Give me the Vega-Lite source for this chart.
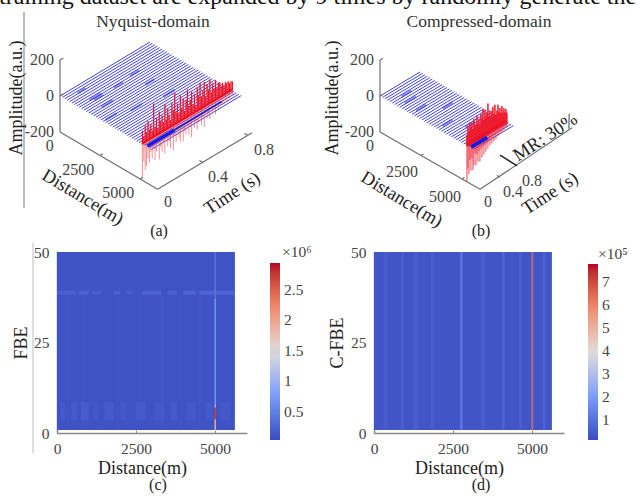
{"$schema":"https://vega.github.io/schema/vega-lite/v6.json","background":"white","autosize":{"type":"pad"},"padding":{"left":-1,"top":-15,"right":0,"bottom":0},"config":{"font":"Liberation Serif","view":{"stroke":null},"axis":{"grid":false,"domainColor":"#888888","domainWidth":1.5,"tickColor":"#888888","tickSize":-3,"labelFont":"Liberation Serif","labelFontSize":15.5,"labelColor":"#444444","titleFont":"Liberation Serif","titleFontSize":18,"titleColor":"#222222","titleFontWeight":"normal","labelPadding":11},"text":{"font":"Liberation Serif"}},"bounds":"flush","columns":2,"spacing":{"column":127,"row":31},"resolve":{"scale":{"color":"independent"}},"datasets":{"traces":[{"k":"tr","d":0,"t":0,"z":0,"t2":0.8},{"k":"tr","d":150,"t":0,"z":0,"t2":0.8},{"k":"tr","d":300,"t":0,"z":0,"t2":0.8},{"k":"tr","d":450,"t":0,"z":0,"t2":0.8},{"k":"tr","d":600,"t":0,"z":0,"t2":0.8},{"k":"tr","d":750,"t":0,"z":0,"t2":0.8},{"k":"tr","d":900,"t":0,"z":0,"t2":0.8},{"k":"tr","d":1050,"t":0,"z":0,"t2":0.8},{"k":"tr","d":1200,"t":0,"z":0,"t2":0.8},{"k":"tr","d":1350,"t":0,"z":0,"t2":0.8},{"k":"tr","d":1500,"t":0,"z":0,"t2":0.8},{"k":"tr","d":1650,"t":0,"z":0,"t2":0.8},{"k":"tr","d":1800,"t":0,"z":0,"t2":0.8},{"k":"tr","d":1950,"t":0,"z":0,"t2":0.8},{"k":"tr","d":2100,"t":0,"z":0,"t2":0.8},{"k":"tr","d":2250,"t":0,"z":0,"t2":0.8},{"k":"tr","d":2400,"t":0,"z":0,"t2":0.8},{"k":"tr","d":2550,"t":0,"z":0,"t2":0.8},{"k":"tr","d":2700,"t":0,"z":0,"t2":0.8},{"k":"tr","d":2850,"t":0,"z":0,"t2":0.8},{"k":"tr","d":3000,"t":0,"z":0,"t2":0.8},{"k":"tr","d":3150,"t":0,"z":0,"t2":0.8},{"k":"tr","d":3300,"t":0,"z":0,"t2":0.8},{"k":"tr","d":3450,"t":0,"z":0,"t2":0.8},{"k":"tr","d":3600,"t":0,"z":0,"t2":0.8},{"k":"tr","d":3750,"t":0,"z":0,"t2":0.8},{"k":"tr","d":3900,"t":0,"z":0,"t2":0.8},{"k":"tr","d":4050,"t":0,"z":0,"t2":0.8},{"k":"tr","d":4200,"t":0,"z":0,"t2":0.8},{"k":"tr","d":4350,"t":0,"z":0,"t2":0.8},{"k":"tr","d":4500,"t":0,"z":0,"t2":0.8},{"k":"tr","d":4650,"t":0,"z":0,"t2":0.8},{"k":"tr","d":4800,"t":0,"z":0,"t2":0.8},{"k":"tr","d":4950,"t":0,"z":0,"t2":0.8},{"k":"tr","d":5100,"t":0,"z":0,"t2":0.8},{"k":"tr","d":5250,"t":0,"z":0,"t2":0.8},{"k":"tr","d":5400,"t":0,"z":0,"t2":0.8},{"k":"tr","d":5550,"t":0,"z":0,"t2":0.8},{"k":"tr","d":5700,"t":0,"z":0,"t2":0.8}]},"concat":[{"width":190,"height":181,"data":{"values":[{"k":"one","d":0,"t":0,"z":0},{"k":"pt","d":1150,"t":0.1,"z":0,"t2":0.2},{"k":"pt","d":1300,"t":0.12,"z":0,"t2":0.2},{"k":"pt","d":1900,"t":0.1,"z":0,"t2":0.2},{"k":"pt","d":400,"t":0.1,"z":0,"t2":0.17},{"k":"pt","d":1150,"t":0.46,"z":0,"t2":0.54},{"k":"pt","d":1250,"t":0.3,"z":0,"t2":0.38},{"k":"pt","d":2100,"t":0.46,"z":0,"t2":0.54},{"k":"pt","d":3000,"t":0.2,"z":0,"t2":0.3},{"k":"pt","d":3300,"t":0.45,"z":0,"t2":0.55},{"k":"pt","d":2700,"t":0.02,"z":0,"t2":0.12},{"k":"sp","d":5150,"t":0,"z":-190,"z2":75},{"k":"sp","d":5150,"t":0.0125,"z":-100,"z2":40},{"k":"sp","d":5150,"t":0.025,"z":-150,"z2":95},{"k":"sp","d":5150,"t":0.0375,"z":-135,"z2":50},{"k":"sp","d":5150,"t":0.05,"z":-95,"z2":110},{"k":"sp","d":5150,"t":0.0625,"z":-125,"z2":60},{"k":"sp","d":5150,"t":0.075,"z":-70,"z2":85},{"k":"sp","d":5150,"t":0.0875,"z":-110,"z2":45},{"k":"sp","d":5150,"t":0.1,"z":-60,"z2":190},{"k":"sp","d":5150,"t":0.1125,"z":-130,"z2":55},{"k":"sp","d":5150,"t":0.125,"z":-85,"z2":100},{"k":"sp","d":5150,"t":0.1375,"z":-50,"z2":40},{"k":"sp","d":5150,"t":0.15,"z":-140,"z2":125},{"k":"sp","d":5150,"t":0.1625,"z":-75,"z2":70},{"k":"sp","d":5150,"t":0.175,"z":-105,"z2":95},{"k":"sp","d":5150,"t":0.1875,"z":-60,"z2":50},{"k":"sp","d":5150,"t":0.2,"z":-125,"z2":150},{"k":"sp","d":5150,"t":0.2125,"z":-45,"z2":60},{"k":"sp","d":5150,"t":0.225,"z":-95,"z2":115},{"k":"sp","d":5150,"t":0.2375,"z":-70,"z2":75},{"k":"sp","d":5150,"t":0.25,"z":-115,"z2":40},{"k":"sp","d":5150,"t":0.2625,"z":-55,"z2":130},{"k":"sp","d":5150,"t":0.275,"z":-135,"z2":85},{"k":"sp","d":5150,"t":0.2875,"z":-60,"z2":178},{"k":"sp","d":5150,"t":0.3,"z":-100,"z2":65},{"k":"sp","d":5150,"t":0.3125,"z":-40,"z2":110},{"k":"sp","d":5150,"t":0.325,"z":-85,"z2":50},{"k":"sp","d":5150,"t":0.3375,"z":-110,"z2":145},{"k":"sp","d":5150,"t":0.35,"z":-50,"z2":70},{"k":"sp","d":5150,"t":0.3625,"z":-120,"z2":120},{"k":"sp","d":5150,"t":0.375,"z":-65,"z2":45},{"k":"sp","d":5150,"t":0.3875,"z":-90,"z2":100},{"k":"sp","d":5150,"t":0.4,"z":-45,"z2":155},{"k":"sp","d":5150,"t":0.4125,"z":-100,"z2":60},{"k":"sp","d":5150,"t":0.425,"z":-60,"z2":90},{"k":"sp","d":5150,"t":0.4375,"z":-125,"z2":130},{"k":"sp","d":5150,"t":0.45,"z":-40,"z2":55},{"k":"sp","d":5150,"t":0.4625,"z":-80,"z2":105},{"k":"sp","d":5150,"t":0.475,"z":-55,"z2":40},{"k":"sp","d":5150,"t":0.4875,"z":-100,"z2":135},{"k":"sp","d":5150,"t":0.5,"z":-65,"z2":80},{"k":"sp","d":5150,"t":0.5125,"z":-40,"z2":150},{"k":"sp","d":5150,"t":0.525,"z":-90,"z2":65},{"k":"sp","d":5150,"t":0.5375,"z":-50,"z2":100},{"k":"sp","d":5150,"t":0.55,"z":-110,"z2":140},{"k":"sp","d":5150,"t":0.5625,"z":-35,"z2":55},{"k":"sp","d":5150,"t":0.575,"z":-70,"z2":120},{"k":"sp","d":5150,"t":0.5875,"z":-45,"z2":80},{"k":"sp","d":5150,"t":0.6,"z":-85,"z2":135},{"k":"sp","d":5150,"t":0.6125,"z":-30,"z2":60},{"k":"sp","d":5150,"t":0.625,"z":-60,"z2":105},{"k":"sp","d":5150,"t":0.6375,"z":-40,"z2":70},{"k":"sp","d":5150,"t":0.65,"z":-75,"z2":115},{"k":"sp","d":5150,"t":0.6625,"z":-30,"z2":65},{"k":"sp","d":5150,"t":0.675,"z":-55,"z2":90},{"k":"sp","d":5150,"t":0.6875,"z":-35,"z2":88},{"k":"sp","d":5150,"t":0.7,"z":-45,"z2":60},{"k":"sp","d":5150,"t":0.7125,"z":-30,"z2":75},{"k":"sp","d":5150,"t":0.725,"z":-50,"z2":55},{"k":"sp","d":5150,"t":0.7375,"z":-30,"z2":70},{"k":"sp","d":5150,"t":0.75,"z":-40,"z2":60},{"k":"sp","d":5150,"t":0.7625,"z":-25,"z2":65},{"k":"sp","d":5150,"t":0.775,"z":-35,"z2":50},{"k":"sp","d":5150,"t":0.7875,"z":-20,"z2":55},{"k":"sp","d":5150,"t":0.8,"z":-25,"z2":50},{"k":"rb","d":5150,"t":0,"z":5,"t2":0.8},{"k":"bb","d":5400,"t":0.01,"z":0,"t2":0.25},{"k":"bb2","d":5400,"t":0.25,"z":0,"t2":0.67},{"k":"ax","d":0,"t":0,"z":-200,"z2":200},{"k":"ax","d":0,"t":0,"z":-200,"d2":6100},{"k":"ax","d":6100,"t":0,"z":-200,"t2":0.84},{"k":"ax","d":0,"t":0,"z":200,"t2":0.03},{"k":"ax","d":0,"t":0,"z":0,"t2":0.03},{"k":"ax","d":2500,"t":0,"z":-200,"t2":0.025},{"k":"ax","d":5000,"t":0,"z":-200,"t2":0.025},{"k":"ax","d":6100,"t":0.4,"z":-200,"d2":5900},{"k":"ax","d":6100,"t":0.8,"z":-200,"d2":5900},{"k":"lab","d":420,"t":-0.15,"z":-200,"label":"0"},{"k":"lab","d":2568,"t":-0.204,"z":-200,"label":"2500"},{"k":"lab","d":5042,"t":-0.2,"z":-200,"label":"5000"},{"k":"lab","d":7095,"t":-0.05,"z":-200,"label":"0"},{"k":"lab","d":7357,"t":0.358,"z":-200,"label":"0.4"},{"k":"lab","d":7389,"t":0.763,"z":-200,"label":"0.8"},{"k":"zl","d":0,"t":0,"z":200,"label":"200"},{"k":"zl","d":0,"t":0,"z":0,"label":"0"},{"k":"zl","d":0,"t":0,"z":-200,"label":"-200"},{"k":"dt","d":4140,"t":-0.384,"z":-200,"label":"Distance(m)"},{"k":"tt","d":8640,"t":0.3,"z":-200,"label":"Time (s)"}]},"transform":[{"calculate":"16*datum.d/1000+112.5*datum.t","as":"u"},{"calculate":"-9.4*datum.d/1000+67.5*datum.t+0.18*datum.z","as":"v"},{"calculate":"-9.4*datum.d/1000+67.5*datum.t","as":"v0"},{"calculate":"16*(isValid(datum.d2)?datum.d2:datum.d)/1000+112.5*(isValid(datum.t2)?datum.t2:datum.t)","as":"u2"},{"calculate":"-9.4*(isValid(datum.d2)?datum.d2:datum.d)/1000+67.5*(isValid(datum.t2)?datum.t2:datum.t)+0.18*(isValid(datum.z2)?datum.z2:datum.z)","as":"v2"}],"encoding":{"x":{"field":"u","type":"quantitative","axis":null,"scale":{"domain":[-3,187],"nice":false,"zero":false}},"y":{"field":"v","type":"quantitative","axis":null,"scale":{"domain":[-125,56],"nice":false,"zero":false}}},"layer":[{"transform":[{"filter":"datum.k=='one'"}],"mark":{"type":"rule","color":"#bdbdbd","strokeWidth":2},"encoding":{"x":{"datum":-36},"y":{"datum":84},"y2":{"datum":-112}}},{"transform":[{"filter":"datum.k=='one'"}],"mark":{"type":"rule","color":"#c8c8c8","strokeWidth":1.2},"encoding":{"x":{"datum":-27},"y":{"datum":-147},"y2":{"datum":-357}}},{"data":{"name":"traces"},"transform":[{"calculate":"16*datum.d/1000","as":"u"},{"calculate":"-9.4*datum.d/1000","as":"v"},{"calculate":"16*datum.d/1000+112.5*datum.t2","as":"u2"},{"calculate":"-9.4*datum.d/1000+67.5*datum.t2","as":"v2"}],"mark":{"type":"rule","color":"#2222e4","strokeWidth":1,"opacity":0.85},"encoding":{"x2":{"field":"u2"},"y2":{"field":"v2"}}},{"transform":[{"filter":"datum.k=='pt'"}],"mark":{"type":"rule","color":"#2a2ac8","strokeWidth":2.5,"opacity":0.5},"encoding":{"x2":{"field":"u2"},"y2":{"field":"v2"}}},{"transform":[{"filter":"datum.k=='sp'"}],"mark":{"type":"rule","color":"#e8454f","strokeWidth":1,"opacity":0.6},"encoding":{"x2":{"field":"u2"},"y2":{"field":"v2"}}},{"transform":[{"filter":"datum.k=='sp'"}],"mark":{"type":"rule","color":"#f01020","strokeWidth":1.1},"encoding":{"y":{"field":"v0"},"x2":{"field":"u2"},"y2":{"field":"v2"}}},{"transform":[{"filter":"datum.k=='rb'"}],"mark":{"type":"rule","color":"#f01020","strokeWidth":2.5},"encoding":{"x2":{"field":"u2"},"y2":{"field":"v2"}}},{"transform":[{"filter":"datum.k=='bb'"}],"mark":{"type":"rule","color":"#1a1ae0","strokeWidth":3.5},"encoding":{"x2":{"field":"u2"},"y2":{"field":"v2"}}},{"transform":[{"filter":"datum.k=='bb2'"}],"mark":{"type":"rule","color":"#2a20c0","strokeWidth":1.8},"encoding":{"x2":{"field":"u2"},"y2":{"field":"v2"}}},{"transform":[{"filter":"datum.k=='ax'"}],"mark":{"type":"rule","color":"#6e6e6e","strokeWidth":1.2},"encoding":{"x2":{"field":"u2"},"y2":{"field":"v2"}}},{"transform":[{"filter":"datum.k=='lab'"}],"mark":{"type":"text","fontSize":16,"color":"#444444","align":"center","baseline":"middle"},"encoding":{"text":{"field":"label"}}},{"transform":[{"filter":"datum.k=='zl'"}],"mark":{"type":"text","fontSize":16,"color":"#444444","align":"right","baseline":"middle","dx":-6},"encoding":{"text":{"field":"label"}}},{"transform":[{"filter":"datum.k=='dt'"}],"mark":{"type":"text","fontSize":18.5,"color":"#222222","align":"center","baseline":"middle","angle":31},"encoding":{"text":{"field":"label"}}},{"transform":[{"filter":"datum.k=='tt'"}],"mark":{"type":"text","fontSize":18.5,"color":"#222222","align":"center","baseline":"middle","angle":-33},"encoding":{"text":{"field":"label"}}},{"transform":[{"filter":"datum.k=='one'"}],"mark":{"type":"text","fontSize":18,"color":"#222222","align":"center","baseline":"middle","angle":-90,"text":"Amplitude(a.u.)"},"encoding":{"x":{"datum":-43},"y":{"datum":-2}}},{"transform":[{"filter":"datum.k=='one'"}],"mark":{"type":"text","fontSize":17.5,"color":"#333333","align":"center","baseline":"middle","dy":-18,"text":"Nyquist-domain"},"encoding":{"x":{"datum":93},"y":{"datum":56}}},{"transform":[{"filter":"datum.k=='one'"}],"mark":{"type":"text","fontSize":16,"color":"#222222","align":"center","baseline":"middle","dy":10,"text":"(a)"},"encoding":{"x":{"datum":99},"y":{"datum":-125}}},{"transform":[{"filter":"datum.k=='one'"}],"mark":{"type":"text","fontSize":24,"color":"#111111","align":"left","baseline":"alphabetic","dx":-58,"dy":-36,"text":"training dataset are expanded by 9 times by randomly generate the"},"encoding":{"x":{"datum":-3},"y":{"datum":56}}}]},{"width":190,"height":181,"data":{"values":[{"k":"one","d":0,"t":0,"z":0},{"k":"pt","d":1150,"t":0.12,"z":0,"t2":0.34},{"k":"pt","d":1900,"t":0.1,"z":0,"t2":0.3},{"k":"pt","d":700,"t":0.2,"z":0,"t2":0.4},{"k":"pt","d":2600,"t":0.4,"z":0,"t2":0.6},{"k":"pt","d":3500,"t":0.1,"z":0,"t2":0.3},{"k":"pt","d":4300,"t":0.3,"z":0,"t2":0.5},{"k":"sp","d":5300,"t":0,"z":-200,"z2":60},{"k":"sp","d":5300,"t":0.02,"z":-130,"z2":105},{"k":"sp","d":5300,"t":0.04,"z":-165,"z2":75},{"k":"sp","d":5300,"t":0.06,"z":-90,"z2":120},{"k":"sp","d":5300,"t":0.08,"z":-150,"z2":90},{"k":"sp","d":5300,"t":0.1,"z":-85,"z":-85,"z2":110},{"k":"sp","d":5300,"t":0.12,"z":-155,"z2":70},{"k":"sp","d":5300,"t":0.14,"z":-130,"z2":125},{"k":"sp","d":5300,"t":0.16,"z":-70,"z2":95},{"k":"sp","d":5300,"t":0.18,"z":-140,"z2":80},{"k":"sp","d":5300,"t":0.2,"z":-80,"z2":135},{"k":"sp","d":5300,"t":0.22,"z":-125,"z2":90},{"k":"sp","d":5300,"t":0.24,"z":-70,"z2":110},{"k":"sp","d":5300,"t":0.26,"z":-130,"z2":75},{"k":"sp","d":5300,"t":0.28,"z":-65,"z2":130},{"k":"sp","d":5300,"t":0.3,"z":-115,"z2":100},{"k":"sp","d":5300,"t":0.32,"z":-60,"z2":150},{"k":"sp","d":5300,"t":0.34,"z":-105,"z2":85},{"k":"sp","d":5300,"t":0.36,"z":-55,"z2":140},{"k":"sp","d":5300,"t":0.38,"z":-95,"z2":95},{"k":"sp","d":5300,"t":0.4,"z":-50,"z2":115},{"k":"sp","d":5300,"t":0.42,"z":-85,"z2":165},{"k":"sp","d":5300,"t":0.44,"z":-45,"z2":90},{"k":"sp","d":5300,"t":0.46,"z":-75,"z2":120},{"k":"sp","d":5300,"t":0.48,"z":-40,"z2":80},{"k":"sp","d":5300,"t":0.5,"z":-70,"z2":110},{"k":"sp","d":5300,"t":0.52,"z":-35,"z2":130},{"k":"sp","d":5300,"t":0.54,"z":-65,"z2":85},{"k":"sp","d":5300,"t":0.56,"z":-35,"z2":135},{"k":"sp","d":5300,"t":0.58,"z":-60,"z2":75},{"k":"sp","d":5300,"t":0.6,"z":-30,"z2":95},{"k":"sp","d":5300,"t":0.62,"z":-50,"z2":125},{"k":"sp","d":5300,"t":0.64,"z":-30,"z2":80},{"k":"sp","d":5300,"t":0.66,"z":-45,"z2":100},{"k":"sp","d":5300,"t":0.68,"z":-25,"z2":70},{"k":"sp","d":5300,"t":0.7,"z":-40,"z2":105},{"k":"sp","d":5300,"t":0.72,"z":-25,"z2":65},{"k":"sp","d":5300,"t":0.74,"z":-35,"z2":85},{"k":"sp","d":5300,"t":0.76,"z":-20,"z2":60},{"k":"sp","d":5300,"t":0.78,"z":-30,"z2":75},{"k":"sp","d":5300,"t":0.8,"z":-20,"z2":50},{"k":"rb","d":5300,"t":0,"z":5,"t2":0.8},{"k":"bb","d":5500,"t":0.02,"z":0,"t2":0.34},{"k":"ax","d":0,"t":0,"z":-200,"z2":200},{"k":"ax","d":0,"t":0,"z":-200,"d2":6100},{"k":"ax","d":6100,"t":0,"z":-200,"t2":1.84,"z2":-165},{"k":"ax","d":0,"t":0,"z":200,"t2":0.06},{"k":"ax","d":0,"t":0,"z":0,"t2":0.06},{"k":"ax","d":2500,"t":0,"z":-200,"t2":0.05},{"k":"ax","d":5000,"t":0,"z":-200,"t2":0.05},{"k":"ax","d":6100,"t":0.4,"z":-200,"d2":5900},{"k":"mr","d":4940,"t":0.78,"z":-200,"d2":6040,"t2":0.76},{"k":"lab","d":415,"t":-0.336,"z":-200,"label":"0"},{"k":"lab","d":2766,"t":-0.468,"z":-200,"label":"2500"},{"k":"lab","d":5400,"t":-0.47,"z":-200,"label":"5000"},{"k":"lab","d":7006,"t":-0.138,"z":-200,"label":"0"},{"k":"lab","d":7265,"t":0.278,"z":-200,"label":"0.4"},{"k":"lab","d":7287,"t":0.65,"z":-200,"label":"0.8"},{"k":"zl","d":0,"t":0,"z":200,"label":"200"},{"k":"zl","d":0,"t":0,"z":0,"label":"0"},{"k":"zl","d":0,"t":0,"z":-200,"label":"-200"},{"k":"dt","d":4169,"t":-0.928,"z":-200,"label":"Distance(m)"},{"k":"tt","d":8472,"t":0.62,"z":-200,"label":"Time (s)"},{"k":"mrt","d":5405,"t":1.53,"z":-200,"label":"MR: 30%"}]},"transform":[{"calculate":"16.4*datum.d/1000+50*datum.t","as":"u"},{"calculate":"-9.4*datum.d/1000+30*datum.t+0.18*datum.z","as":"v"},{"calculate":"-9.4*datum.d/1000+30*datum.t","as":"v0"},{"calculate":"16.4*(isValid(datum.d2)?datum.d2:datum.d)/1000+50*(isValid(datum.t2)?datum.t2:datum.t)","as":"u2"},{"calculate":"-9.4*(isValid(datum.d2)?datum.d2:datum.d)/1000+30*(isValid(datum.t2)?datum.t2:datum.t)+0.18*(isValid(datum.z2)?datum.z2:datum.z)","as":"v2"}],"encoding":{"x":{"field":"u","type":"quantitative","axis":null,"scale":{"domain":[-6,184],"nice":false,"zero":false}},"y":{"field":"v","type":"quantitative","axis":null,"scale":{"domain":[-125,56],"nice":false,"zero":false}}},"layer":[{"data":{"name":"traces"},"transform":[{"calculate":"16.4*datum.d/1000","as":"u"},{"calculate":"-9.4*datum.d/1000","as":"v"},{"calculate":"16.4*datum.d/1000+50*datum.t2","as":"u2"},{"calculate":"-9.4*datum.d/1000+30*datum.t2","as":"v2"}],"mark":{"type":"rule","color":"#2222e4","strokeWidth":1,"opacity":0.85},"encoding":{"x2":{"field":"u2"},"y2":{"field":"v2"}}},{"transform":[{"filter":"datum.k=='pt'"}],"mark":{"type":"rule","color":"#2a2ac8","strokeWidth":2.5,"opacity":0.5},"encoding":{"x2":{"field":"u2"},"y2":{"field":"v2"}}},{"transform":[{"filter":"datum.k=='sp'"}],"mark":{"type":"rule","color":"#ee2a3a","strokeWidth":1.1,"opacity":0.8},"encoding":{"x2":{"field":"u2"},"y2":{"field":"v2"}}},{"transform":[{"filter":"datum.k=='sp'"}],"mark":{"type":"rule","color":"#f01020","strokeWidth":1.1},"encoding":{"y":{"field":"v0"},"x2":{"field":"u2"},"y2":{"field":"v2"}}},{"transform":[{"filter":"datum.k=='rb'"}],"mark":{"type":"rule","color":"#f01020","strokeWidth":3.5},"encoding":{"x2":{"field":"u2"},"y2":{"field":"v2"}}},{"transform":[{"filter":"datum.k=='bb'"}],"mark":{"type":"rule","color":"#1a1ae0","strokeWidth":4},"encoding":{"x2":{"field":"u2"},"y2":{"field":"v2"}}},{"transform":[{"filter":"datum.k=='ax'"}],"mark":{"type":"rule","color":"#6e6e6e","strokeWidth":1.2},"encoding":{"x2":{"field":"u2"},"y2":{"field":"v2"}}},{"transform":[{"filter":"datum.k=='mr'"}],"mark":{"type":"rule","color":"#222222","strokeWidth":1.5},"encoding":{"x2":{"field":"u2"},"y2":{"field":"v2"}}},{"transform":[{"filter":"datum.k=='lab'"}],"mark":{"type":"text","fontSize":16,"color":"#444444","align":"center","baseline":"middle"},"encoding":{"text":{"field":"label"}}},{"transform":[{"filter":"datum.k=='zl'"}],"mark":{"type":"text","fontSize":16,"color":"#444444","align":"right","baseline":"middle","dx":-6},"encoding":{"text":{"field":"label"}}},{"transform":[{"filter":"datum.k=='dt'"}],"mark":{"type":"text","fontSize":18.5,"color":"#222222","align":"center","baseline":"middle","angle":31},"encoding":{"text":{"field":"label"}}},{"transform":[{"filter":"datum.k=='tt'"}],"mark":{"type":"text","fontSize":18.5,"color":"#222222","align":"center","baseline":"middle","angle":-33},"encoding":{"text":{"field":"label"}}},{"transform":[{"filter":"datum.k=='mrt'"}],"mark":{"type":"text","fontSize":18.5,"color":"#222222","align":"center","baseline":"middle","angle":-33},"encoding":{"text":{"field":"label"}}},{"transform":[{"filter":"datum.k=='one'"}],"mark":{"type":"text","fontSize":18,"color":"#222222","align":"center","baseline":"middle","angle":-90,"text":"Amplitude(a.u.)"},"encoding":{"x":{"datum":-47},"y":{"datum":-2}}},{"transform":[{"filter":"datum.k=='one'"}],"mark":{"type":"text","fontSize":17.5,"color":"#333333","align":"center","baseline":"middle","dy":-18,"text":"Compressed-domain"},"encoding":{"x":{"datum":99},"y":{"datum":56}}},{"transform":[{"filter":"datum.k=='one'"}],"mark":{"type":"text","fontSize":16,"color":"#222222","align":"center","baseline":"middle","dy":10,"text":"(b)"},"encoding":{"x":{"datum":101},"y":{"datum":-125}}}]},{"width":190,"height":181,"data":{"values":[{"k":"r","d":0,"d2":5630,"f":0.8,"f2":50,"v":0.1},{"k":"r","d":0,"d2":600,"f":38.2,"f2":39.3,"v":0.22},{"k":"r","d":700,"d2":1000,"f":38.2,"f2":39.3,"v":0.25},{"k":"r","d":1100,"d2":1400,"f":38.2,"f2":39.3,"v":0.2},{"k":"r","d":1800,"d2":2000,"f":38.2,"f2":39.3,"v":0.22},{"k":"r","d":2200,"d2":2400,"f":38.2,"f2":39.3,"v":0.2},{"k":"r","d":2700,"d2":3300,"f":38.2,"f2":39.3,"v":0.25},{"k":"r","d":3500,"d2":3800,"f":38.2,"f2":39.3,"v":0.22},{"k":"r","d":4000,"d2":4400,"f":38.2,"f2":39.3,"v":0.25},{"k":"r","d":4500,"d2":5630,"f":38.2,"f2":39.3,"v":0.25},{"k":"r","d":300,"d2":360,"f":0.8,"f2":38,"v":0.13},{"k":"r","d":800,"d2":860,"f":0.8,"f2":38,"v":0.13},{"k":"r","d":1300,"d2":1360,"f":0.8,"f2":38,"v":0.12},{"k":"r","d":1900,"d2":1960,"f":0.8,"f2":38,"v":0.13},{"k":"r","d":2600,"d2":2660,"f":0.8,"f2":38,"v":0.12},{"k":"r","d":3300,"d2":3360,"f":0.8,"f2":38,"v":0.13},{"k":"r","d":3900,"d2":3960,"f":0.8,"f2":38,"v":0.12},{"k":"r","d":4500,"d2":4560,"f":0.8,"f2":38,"v":0.13},{"k":"r","d":100,"d2":250,"f":3.5,"f2":8.5,"v":0.16},{"k":"r","d":450,"d2":650,"f":3.5,"f2":8.5,"v":0.16},{"k":"r","d":750,"d2":1000,"f":3.5,"f2":8.5,"v":0.18},{"k":"r","d":1150,"d2":1300,"f":3.5,"f2":8.5,"v":0.15},{"k":"r","d":1500,"d2":1800,"f":3.5,"f2":8.5,"v":0.16},{"k":"r","d":2000,"d2":2200,"f":3.5,"f2":8.5,"v":0.15},{"k":"r","d":2500,"d2":2800,"f":3.5,"f2":8.5,"v":0.16},{"k":"r","d":3100,"d2":3400,"f":3.5,"f2":8.5,"v":0.15},{"k":"r","d":3600,"d2":3800,"f":3.5,"f2":8.5,"v":0.16},{"k":"r","d":4100,"d2":4400,"f":3.5,"f2":8.5,"v":0.15},{"k":"r","d":4700,"d2":4900,"f":3.5,"f2":8.5,"v":0.16},{"k":"r","d":5150,"d2":5500,"f":3.5,"f2":8.5,"v":0.15},{"k":"r","d":4985,"d2":5030,"f":37,"f2":50,"v":0.4},{"k":"r","d":4985,"d2":5030,"f":8,"f2":37,"v":0.7},{"k":"r","d":4985,"d2":5030,"f":7,"f2":8,"v":1},{"k":"r","d":4985,"d2":5030,"f":3.8,"f2":7,"v":2.7},{"k":"r","d":4985,"d2":5030,"f":0.8,"f2":3.8,"v":1.9},{"k":"one","d":0,"d2":0,"f":0,"f2":0,"v":0.1}]},"encoding":{"x":{"field":"d","type":"quantitative","title":"Distance(m)","scale":{"domain":[0,6013],"nice":false,"zero":false},"axis":{"values":[0,2500,5000],"format":"d","titleX":85,"titleY":26,"titleAnchor":"middle","labelFlush":false}},"y":{"field":"f","type":"quantitative","title":"FBE","scale":{"domain":[0,50],"nice":false},"axis":{"values":[0,25,50],"titlePadding":3}}},"layer":[{"transform":[{"filter":"datum.k=='r'"}],"mark":{"type":"rect","stroke":null},"encoding":{"x2":{"field":"d2"},"y2":{"field":"f2"},"color":{"field":"v","type":"quantitative","scale":{"domain":[0.04,0.77,1.5,2.22,2.94],"range":["#3b4cc0","#7b9ff9","#dddddd","#f08a6c","#b40426"]},"legend":{"orient":"none","legendX":213,"legendY":11,"title":null,"direction":"vertical","values":[0.5,1,1.5,2,2.5],"labelExpr":"''+datum.value","gradientLength":177,"gradientThickness":10,"labelFontSize":15.5,"labelColor":"#444444","labelOffset":4,"gradientStrokeWidth":0,"labelFont":"Liberation Serif"}}}},{"transform":[{"filter":"datum.k=='one'"}],"mark":{"type":"text","fontSize":15.5,"color":"#444444","align":"left","baseline":"alphabetic","dx":35,"dy":5,"text":"×10⁶"},"encoding":{"x":{"datum":6013},"y":{"datum":50}}},{"transform":[{"filter":"datum.k=='one'"}],"mark":{"type":"text","fontSize":16,"color":"#222222","align":"center","baseline":"middle","dy":52,"text":"(c)"},"encoding":{"x":{"datum":3196},"y":{"datum":0}}},{"transform":[{"filter":"datum.k=='one'"}],"mark":{"type":"text","fontSize":21,"fontWeight":"bold","color":"#111111","align":"left","baseline":"alphabetic","dx":-57,"dy":89,"text":"Fig. 3. Measured data of the 5 th allocated training and the compressed dataset"},"encoding":{"x":{"datum":0},"y":{"datum":0}}}]},{"width":190,"height":181,"data":{"values":[{"k":"r","d":0,"d2":5630,"f":0.8,"f2":50,"v":0.35},{"k":"r","d":300,"d2":420,"f":0.8,"f2":50,"v":0.5},{"k":"r","d":850,"d2":950,"f":0.8,"f2":50,"v":0.55},{"k":"r","d":1250,"d2":1400,"f":0.8,"f2":50,"v":0.55},{"k":"r","d":1800,"d2":1900,"f":0.8,"f2":50,"v":0.55},{"k":"r","d":2730,"d2":2800,"f":0.8,"f2":50,"v":1.2},{"k":"r","d":3400,"d2":3500,"f":0.8,"f2":50,"v":0.6},{"k":"r","d":4050,"d2":4130,"f":0.8,"f2":50,"v":0.7},{"k":"r","d":4600,"d2":4680,"f":0.8,"f2":50,"v":0.6},{"k":"r","d":5350,"d2":5420,"f":0.8,"f2":50,"v":0.7},{"k":"l","d":4970,"d2":5045,"f":0.8,"f2":50,"v":7.2},{"k":"one","d":0,"d2":0,"f":0,"f2":0,"v":0.35}]},"encoding":{"x":{"field":"d","type":"quantitative","title":"Distance(m)","scale":{"domain":[0,6013],"nice":false,"zero":false},"axis":{"values":[0,2500,5000],"format":"d","titleX":85,"titleY":26,"titleAnchor":"middle","labelFlush":false}},"y":{"field":"f","type":"quantitative","title":"C-FBE","scale":{"domain":[0,50],"nice":false},"axis":{"values":[0,25,50],"titlePadding":4}}},"layer":[{"transform":[{"filter":"datum.k=='r'"}],"mark":{"type":"rect","stroke":null},"encoding":{"x2":{"field":"d2"},"y2":{"field":"f2"},"color":{"field":"v","type":"quantitative","scale":{"domain":[0.13,2.04,3.95,5.87,7.78],"range":["#3b4cc0","#7b9ff9","#dddddd","#f08a6c","#b40426"]},"legend":{"orient":"none","legendX":214,"legendY":12,"title":null,"direction":"vertical","values":[1,2,3,4,5,6,7],"labelExpr":"''+datum.value","gradientLength":176,"gradientThickness":10,"labelFontSize":15.5,"labelColor":"#444444","labelOffset":4,"gradientStrokeWidth":0,"labelFont":"Liberation Serif"}}}},{"transform":[{"filter":"datum.k=='l'"}],"mark":{"type":"rect","stroke":null,"color":"#a0688c"},"encoding":{"x2":{"field":"d2"},"y2":{"field":"f2"}}},{"transform":[{"filter":"datum.k=='one'"}],"mark":{"type":"text","fontSize":15.5,"color":"#444444","align":"left","baseline":"alphabetic","dx":34,"dy":7,"text":"×10⁵"},"encoding":{"x":{"datum":6013},"y":{"datum":50}}},{"transform":[{"filter":"datum.k=='one'"}],"mark":{"type":"text","fontSize":16,"color":"#222222","align":"center","baseline":"middle","dy":52,"text":"(d)"},"encoding":{"x":{"datum":3386},"y":{"datum":0}}}]}]}
